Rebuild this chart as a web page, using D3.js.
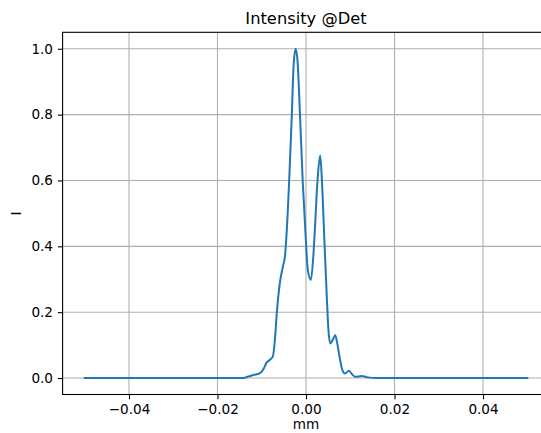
<!DOCTYPE html>
<html lang="en">
<head>
<meta charset="UTF-8">
<title>Intensity @Det</title>
<script src="https://d3js.org/d3.v7.min.js"></script>
<style>
  body { margin: 0; background: #fff; }
  svg text { font-family: "DejaVu Sans", sans-serif; fill: #000; }
</style>
</head>
<body>
<div class="chart"></div>
<script>
// detector position (mm) and intensity
const posMM = [-0.05, -0.014, -0.0134, -0.0119, -0.0104, -0.0095, -0.009, -0.0082, -0.0075, -0.007,
  -0.0066, -0.0059, -0.0052, -0.00475, -0.0044, -0.0038, -0.0032, -0.0028, -0.00233, -0.0019,
  -0.00136, -0.00075, -0.0001, 0.0004, 0.0011, 0.0016, 0.002, 0.0026, 0.0032, 0.0036,
  0.0041, 0.0047, 0.0051, 0.0055, 0.006, 0.0066, 0.007, 0.0075, 0.0082, 0.0088,
  0.0097, 0.0105, 0.0111, 0.0126, 0.014, 0.016, 0.05]
const intensity = [0, 0, 0.003, 0.009, 0.015, 0.03, 0.045, 0.055, 0.065, 0.12,
  0.197, 0.29, 0.34, 0.37, 0.435, 0.6, 0.8, 0.95, 1.0, 0.96,
  0.8, 0.6, 0.435, 0.33, 0.298, 0.36, 0.45, 0.6, 0.676, 0.6,
  0.435, 0.247, 0.14, 0.105, 0.115, 0.13, 0.11, 0.07, 0.025, 0.014,
  0.022, 0.01, 0.004, 0.006, 0.002, 0, 0]
const xTicks = [-0.04, -0.02, 0, 0.02, 0.04]
const yTicks = [0, 0.2, 0.4, 0.6, 0.8, 1.0]

const width = 541, height = 433
const mLeft = 62.6, mRight = 549.4, mTop = 32.3, mBottom = 394.5

const svg = d3.select('.chart').append('svg')
  .attr('width', width)
  .attr('height', height)

const xScale = d3.scaleLinear().domain([-0.055, 0.055]).range([mLeft, mRight])
const yScale = d3.scaleLinear().domain([-0.05, 1.05]).range([mBottom, mTop])

// grid
svg.append('g').selectAll('line').data(xTicks).enter().append('line')
  .attr('x1', d => xScale(d)).attr('x2', d => xScale(d))
  .attr('y1', mTop).attr('y2', mBottom)
  .attr('stroke', '#b0b0b0').attr('stroke-width', 1.1)
svg.append('g').selectAll('line').data(yTicks).enter().append('line')
  .attr('y1', d => yScale(d)).attr('y2', d => yScale(d))
  .attr('x1', mLeft).attr('x2', mRight)
  .attr('stroke', '#b0b0b0').attr('stroke-width', 1.1)

// axes
const xAxis = d3.axisBottom(xScale).tickValues(xTicks)
  .tickFormat(d => d3.format('.2f')(d).replace('-', '\u2212'))
  .tickSizeInner(4.8).tickSizeOuter(0).tickPadding(4.8)
const yAxis = d3.axisLeft(yScale).tickValues(yTicks)
  .tickFormat(d3.format('.1f'))
  .tickSizeInner(4.8).tickSizeOuter(0).tickPadding(4.8)

const gx = svg.append('g').attr('transform', `translate(0, ${mBottom})`).call(xAxis)
const gy = svg.append('g').attr('transform', `translate(${mLeft}, 0)`).call(yAxis)
for (const g of [gx, gy]) {
  g.select('.domain').remove()
  g.selectAll('line').attr('stroke', '#000').attr('stroke-width', 1.1)
  g.selectAll('text').style('font-size', '13.6px').style('font-family', '"DejaVu Sans", sans-serif').attr('fill', '#000')
}

// line
const data = posMM.map((x, i) => ({ x: x, y: intensity[i] }))
const line = d3.line()
  .x(d => xScale(d.x))
  .y(d => yScale(d.y))
  .curve(d3.curveMonotoneX)
svg.append('path')
  .datum(data)
  .attr('d', line)
  .attr('fill', 'none')
  .attr('stroke', '#1f77b4')
  .attr('stroke-width', 2)
  .attr('stroke-linejoin', 'round')
  .attr('stroke-linecap', 'square')

// frame
svg.append('rect')
  .attr('x', mLeft).attr('y', mTop)
  .attr('width', mRight - mLeft).attr('height', mBottom - mTop)
  .attr('fill', 'none').attr('stroke', '#000').attr('stroke-width', 1.1)

// labels
svg.append('text')
  .attr('x', (mLeft + mRight) / 2).attr('y', 24)
  .attr('text-anchor', 'middle')
  .style('font-size', '16.3px')
  .text('Intensity @Det')
svg.append('text')
  .attr('x', (mLeft + mRight) / 2).attr('y', 429)
  .attr('text-anchor', 'middle')
  .style('font-size', '13.6px')
  .text('mm')
svg.append('text')
  .attr('transform', `translate(21, ${(mTop + mBottom) / 2}) rotate(-90)`)
  .attr('text-anchor', 'middle')
  .style('font-size', '13.6px')
  .text('I')
</script>
</body>
</html>
